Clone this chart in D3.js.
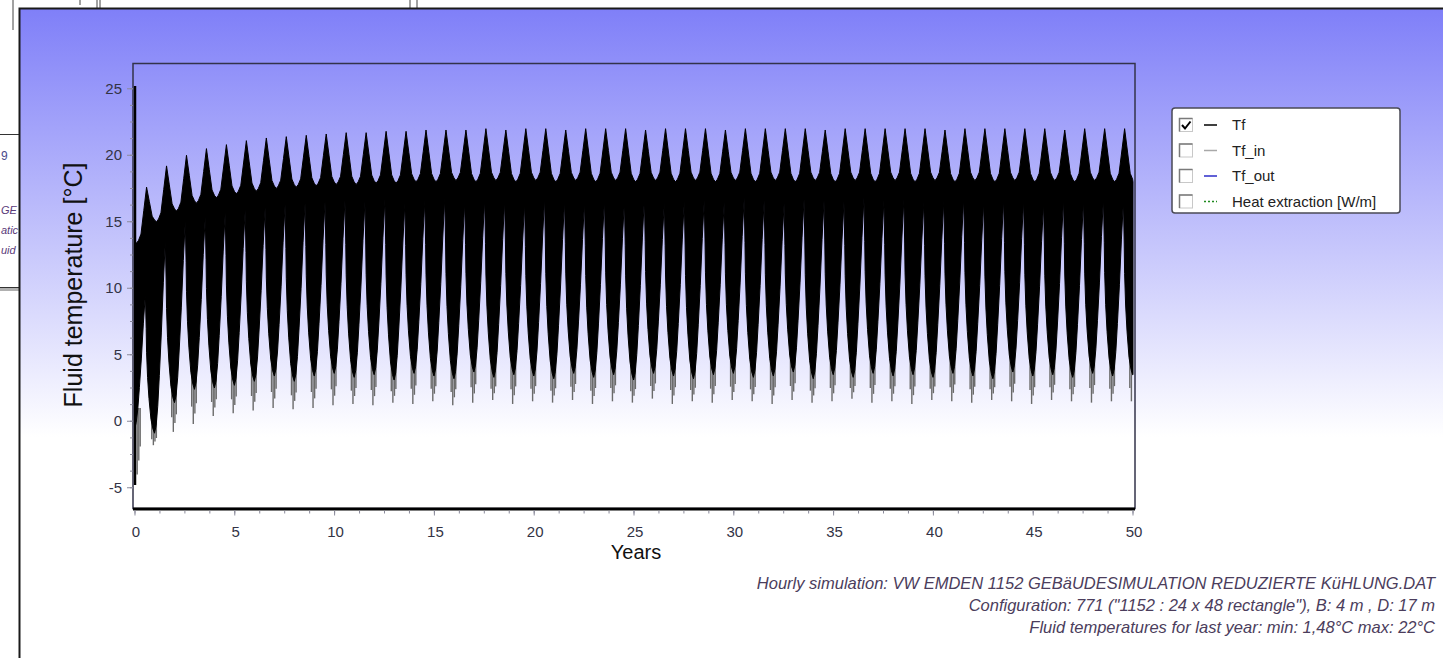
<!DOCTYPE html>
<html>
<head>
<meta charset="utf-8">
<script src="https://cdn.jsdelivr.net/npm/d3@7"></script>
<style>
body { margin: 0; background: #fff; overflow: hidden; }
text { font-family: "Liberation Sans", Arial, sans-serif; }
</style>
</head>
<body>
<script>
const svg_width = 1443;
const svg_height = 658;

// each yearly cycle peaks at year + peak_phase
const peak_phase = 0.58;

// summer spike maximum, one per year (0..49)
const peak_temp = [
    17.6, 19.2, 20.0, 20.5, 20.8, 21.1, 21.3, 21.4, 21.5, 21.6,
    21.7, 21.7, 21.8, 21.8, 21.9, 21.9, 21.9, 22.0, 21.9, 22.0,
    22.0, 21.9, 22.0, 22.0, 22.0, 21.9, 22.0, 22.0, 22.0, 21.9,
    22.0, 22.0, 22.0, 22.0, 21.9, 22.0, 22.0, 22.0, 22.0, 22.0,
    21.9, 22.0, 22.0, 22.0, 22.0, 22.0, 21.9, 22.0, 22.0, 22.0
];
// top of the dense band between spikes (index k = before spike k, last = after final spike)
const plateau_temp = [
    13.4, 15.0, 15.8, 16.4, 16.8, 17.1, 17.3, 17.5, 17.6, 17.7,
    17.8, 17.8, 17.9, 17.9, 18.0, 18.0, 18.1, 18.0, 18.1, 18.0,
    18.1, 18.0, 18.1, 18.0, 18.1, 18.0, 18.1, 18.0, 18.1, 18.0,
    18.1, 18.0, 18.1, 18.0, 18.1, 18.0, 18.1, 18.0, 18.1, 18.0,
    18.1, 18.0, 18.1, 18.0, 18.1, 18.0, 18.1, 18.0, 18.1, 18.0,
    18.0
];
// top of the white gap just before each spike
const gap_top = [
    9.6, 13.6, 15.1, 15.4, 15.7, 15.9, 16.1, 16.3, 16.4, 16.5,
    16.6, 16.5, 16.7, 16.4, 16.6, 16.8, 16.5, 16.7, 16.6, 16.4,
    16.8, 16.6, 16.5, 16.7, 16.6, 16.8, 16.5, 16.6, 16.7, 16.5,
    16.8, 16.6, 16.4, 16.7, 16.6, 16.5, 16.8, 16.6, 16.7, 16.5,
    16.6, 16.8, 16.5, 16.7, 16.6, 16.4, 16.7, 16.6, 16.8, 16.6
];
// lowest black value of each winter column (column 0 = start, column k+1 follows spike k)
const trough_temp = [
    -0.5, -0.9, 1.4, 2.4, 2.5, 2.7, 3.0, 3.4, 3.0, 3.4,
    3.6, 3.3, 3.5, 3.1, 3.6, 3.4, 3.2, 3.7, 3.3, 3.5,
    3.4, 3.2, 3.6, 3.3, 3.5, 3.1, 3.6, 3.4, 3.2, 3.5,
    3.6, 3.3, 3.4, 3.7, 3.2, 3.5, 3.3, 3.6, 3.4, 3.5,
    3.3, 3.6, 3.4, 3.2, 3.7, 3.4, 3.5, 3.3, 3.6, 3.4,
    3.5
];
// deepest grey hourly spikes under each column
const gray_min = [
    -4.0, -1.8, -0.8, -0.2, 0.4, 0.6, 0.8, 1.0, 0.9, 1.0,
    1.2, 1.3, 1.2, 1.4, 1.3, 1.5, 1.2, 1.4, 1.6, 1.3,
    1.5, 1.4, 1.6, 1.3, 1.5, 1.4, 1.7, 1.3, 1.5, 1.4,
    1.6, 1.5, 1.3, 1.6, 1.4, 1.5, 1.7, 1.4, 1.5, 1.3,
    1.6, 1.5, 1.4, 1.6, 1.5, 1.3, 1.6, 1.5, 1.4, 1.5,
    1.5
];
// first hour of the simulation
const start_spike = [25.2, -4.8];

// shape of one cycle: [offset from spike (years), fraction]
const upper_shape = [[-0.5, 0], [-0.4, 0.05], [-0.28, 0.16], [-0.14, 0.58], [0, 1], [0.14, 0.58], [0.28, 0.16], [0.4, 0.05], [0.5, 0]];
const low_rise_shape = [[-0.6, 0], [-0.52, 0.04], [-0.44, 0.14], [-0.36, 0.3], [-0.26, 0.52], [-0.16, 0.78], [-0.06, 1]];
const low_fall_shape = [[-0.02, 0.75], [0, 0.58], [0.05, 0.4], [0.12, 0.25], [0.22, 0.1], [0.32, 0.03], [0.4, 0]];
const gray_shape = [[-0.12, 0.5], [-0.04, 0.0], [0.04, 0.3], [0.11, 0.6]];

const x_major = d3.range(0, 51, 5);
const x_minor = d3.range(0, 50.01, 1.25);
const y_major = [-5, 0, 5, 10, 15, 20, 25];
const y_minor = d3.range(-5, 25.01, 1.25);

const legend_items = [
    {name: 'Tf', color: '#000', dash: null, checked: true},
    {name: 'Tf_in', color: '#a8a8a8', dash: null, checked: false},
    {name: 'Tf_out', color: '#2c2cc8', dash: null, checked: false},
    {name: 'Heat extraction [W/m]', color: '#1f8a1f', dash: '2,2', checked: false}
];

const notes = [
    'Hourly simulation: VW EMDEN 1152 GEBäUDESIMULATION REDUZIERTE KüHLUNG.DAT',
    'Configuration: 771 ("1152 : 24 x 48 rectangle"), B: 4 m , D: 17 m',
    'Fluid temperatures for last year: min: 1,48°C max: 22°C'
];

const svg = d3.select('body')
    .append('svg')
    .attr('width', svg_width)
    .attr('height', svg_height);

// ---- windows behind the chart ----
const back_g = svg.append('g');
back_g.append('rect').attr('width', svg_width).attr('height', svg_height).attr('fill', '#fff');
[[13, 0, 13, 30], [80, 0, 80, 5], [97, 0, 97, 8], [100, 0, 100, 8], [410, 0, 410, 8], [417, 0, 417, 8]]
    .forEach(l => back_g.append('line')
        .attr('x1', l[0]).attr('y1', l[1]).attr('x2', l[2]).attr('y2', l[3])
        .attr('stroke', '#444').attr('stroke-width', 1));
back_g.append('line').attr('x1', 0).attr('x2', 20).attr('y1', 134.5).attr('y2', 134.5).attr('stroke', '#333');
back_g.append('line').attr('x1', 0).attr('x2', 20).attr('y1', 287.5).attr('y2', 287.5).attr('stroke', '#333');
back_g.append('rect').attr('x', 0).attr('y', 288).attr('width', 20).attr('height', 3).attr('fill', '#b0b0b0');
back_g.append('text').attr('x', 1).attr('y', 160).attr('font-size', 12).attr('fill', '#4a4a8a').text('9');
[['GE', 214], ['atic', 234], ['uid', 254]]
    .forEach(t => back_g.append('text')
        .attr('x', 1).attr('y', t[1])
        .attr('font-size', 11).attr('font-style', 'italic').attr('fill', '#5a3a7a').text(t[0]));

// ---- main window with gradient ----
const defs = svg.append('defs');
const grad = defs.append('linearGradient')
    .attr('id', 'bg_grad')
    .attr('x1', 0).attr('y1', 0).attr('x2', 0).attr('y2', 1);
grad.append('stop').attr('offset', '0%').attr('stop-color', '#7f7ff8');
grad.append('stop').attr('offset', '66%').attr('stop-color', '#ffffff');
grad.append('stop').attr('offset', '100%').attr('stop-color', '#ffffff');

svg.append('rect')
    .attr('x', 19).attr('y', 8)
    .attr('width', svg_width - 19).attr('height', svg_height - 8)
    .attr('fill', 'url(#bg_grad)');
svg.append('path')
    .attr('d', `M19.5,${svg_height} V8.5 H${svg_width}`)
    .attr('fill', 'none').attr('stroke', '#1a1a1a').attr('stroke-width', 2);

// ---- scales ----
const plot = {left: 133, right: 1135, top: 63.5, bottom: 508.5};
const x = d3.scaleLinear().domain([-0.1, 50.1]).range([plot.left, plot.right]);
const y = d3.scaleLinear().domain([-6.56, 26.9]).range([plot.bottom, plot.top]);

// ---- envelope of the hourly series ----
const upper_pts = [[0, plateau_temp[0]]];
peak_temp.forEach((p, k) => {
    const c = k + peak_phase;
    upper_shape.forEach(([d, f]) => {
        const base = d < 0 ? plateau_temp[k] : plateau_temp[k + 1];
        upper_pts.push([c + d, base + f * (p - base)]);
    });
});
upper_pts.push([50, plateau_temp[plateau_temp.length - 1]]);

const lower_pts = [[0, trough_temp[0]]];
gap_top.forEach((g, k) => {
    const c = k + peak_phase;
    low_rise_shape.forEach(([d, f]) => lower_pts.push([c + d, trough_temp[k] + f * (g - trough_temp[k])]));
    low_fall_shape.forEach(([d, f]) => lower_pts.push([c + d, trough_temp[k + 1] + f * (g - trough_temp[k + 1])]));
});
lower_pts.push([50, trough_temp[trough_temp.length - 1]]);

const clip = pts => pts.filter(p => p[0] >= 0 && p[0] <= 50);
const poly = clip(upper_pts).concat(clip(lower_pts).reverse());

const line = d3.line()
    .x(d => x(d[0]))
    .y(d => y(d[1]));

const data_g = svg.append('g');

// grey hourly spikes below each column
const gray_lines = [];
trough_temp.forEach((m, j) => {
    const c = Math.max(j - 1 + peak_phase + 0.38, 0.15);
    gray_shape.forEach(([d, f]) => {
        const t = c + d;
        if (t < 0.05 || t > 49.98) return;
        gray_lines.push([[t, m + 1.5], [t, gray_min[j] + f * (m - gray_min[j])]]);
    });
});
data_g.selectAll('.gray')
    .data(gray_lines)
    .enter()
    .append('path')
    .attr('class', 'gray')
    .attr('d', d => line(d))
    .attr('stroke', '#6a6a6a')
    .attr('stroke-width', 1.4)
    .attr('fill', 'none');

data_g.append('path')
    .attr('d', line(poly) + 'Z')
    .attr('fill', '#000')
    .attr('stroke', '#000')
    .attr('stroke-width', 1);

data_g.append('path')
    .attr('d', line([[0, start_spike[0]], [0, start_spike[1]]]))
    .attr('stroke', '#000')
    .attr('stroke-width', 2.5);

// ---- frame and axes ----
svg.append('rect')
    .attr('x', plot.left).attr('y', plot.top)
    .attr('width', plot.right - plot.left).attr('height', plot.bottom - plot.top)
    .attr('fill', 'none').attr('stroke', '#33334a').attr('stroke-width', 1.5);
svg.append('line')
    .attr('x1', plot.left).attr('x2', plot.right)
    .attr('y1', plot.bottom + 0.5).attr('y2', plot.bottom + 0.5)
    .attr('stroke', '#000').attr('stroke-width', 3);

const tick_col = '#8a8a9a';
const axis_text = '#333345';

const x_axis_g = svg.append('g');
x_axis_g.selectAll('.xminor').data(x_minor).enter().append('line')
    .attr('x1', d => x(d)).attr('x2', d => x(d))
    .attr('y1', plot.bottom + 2).attr('y2', plot.bottom + 5)
    .attr('stroke', tick_col);
x_axis_g.selectAll('.xmajor').data(x_major).enter().append('line')
    .attr('x1', d => x(d)).attr('x2', d => x(d))
    .attr('y1', plot.bottom + 2).attr('y2', plot.bottom + 7)
    .attr('stroke', tick_col);
x_axis_g.selectAll('text').data(x_major).enter().append('text')
    .attr('x', d => x(d) + 1).attr('y', 537)
    .attr('text-anchor', 'middle').attr('font-size', 15).attr('fill', axis_text)
    .text(d => d);

const y_axis_g = svg.append('g');
y_axis_g.selectAll('.yminor').data(y_minor).enter().append('line')
    .attr('x1', plot.left - 3).attr('x2', plot.left)
    .attr('y1', d => y(d)).attr('y2', d => y(d))
    .attr('stroke', tick_col);
y_axis_g.selectAll('.ymajor').data(y_major).enter().append('line')
    .attr('x1', plot.left - 6).attr('x2', plot.left)
    .attr('y1', d => y(d)).attr('y2', d => y(d))
    .attr('stroke', tick_col);
y_axis_g.selectAll('text').data(y_major).enter().append('text')
    .attr('x', 122).attr('y', d => y(d) + 5)
    .attr('text-anchor', 'end').attr('font-size', 15).attr('fill', axis_text)
    .text(d => d);

svg.append('text')
    .attr('x', 636).attr('y', 559)
    .attr('text-anchor', 'middle').attr('font-size', 20).attr('fill', '#111')
    .text('Years');
svg.append('text')
    .attr('transform', 'translate(82, 285) rotate(-90)')
    .attr('text-anchor', 'middle').attr('font-size', 25).attr('fill', '#111')
    .text('Fluid temperature [°C]');

// ---- legend ----
const legend_g = svg.append('g').attr('transform', 'translate(1172, 108)');
legend_g.append('rect')
    .attr('width', 228).attr('height', 105).attr('rx', 3)
    .attr('fill', '#fff').attr('stroke', '#4a4a55').attr('stroke-width', 1.5);
legend_g.selectAll('.item')
    .data(legend_items)
    .enter()
    .append('g')
    .attr('transform', (d, i) => `translate(0, ${17 + i * 25.5})`)
    .each(function (d) {
        const g = d3.select(this);
        g.append('rect').attr('x', 7.5).attr('y', -6.5).attr('width', 13).attr('height', 13)
            .attr('fill', '#fff').attr('stroke', '#c8c8c8');
        g.append('path').attr('d', 'M7.5,6.5 V-6.5 H20.5').attr('fill', 'none').attr('stroke', '#7a7a7a').attr('stroke-width', 1.5);
        if (d.checked) {
            g.append('path').attr('d', 'M10,0 L13,3.5 L18.5,-3.5')
                .attr('fill', 'none').attr('stroke', '#000').attr('stroke-width', 2);
        }
        g.append('line').attr('x1', 32).attr('x2', 45).attr('y1', 0).attr('y2', 0)
            .attr('stroke', d.color).attr('stroke-width', 1.5)
            .attr('stroke-dasharray', d.dash);
        g.append('text').attr('x', 60).attr('y', 5)
            .attr('font-size', 15).attr('fill', '#222')
            .text(d.name);
    });

// ---- notes ----
svg.append('g').selectAll('text')
    .data(notes)
    .enter()
    .append('text')
    .attr('x', 1435).attr('y', (d, i) => 589 + i * 22)
    .attr('text-anchor', 'end').attr('font-size', 16.5).attr('font-style', 'italic')
    .attr('fill', '#4b3d5c')
    .text(d => d);
</script>
</body>
</html>
